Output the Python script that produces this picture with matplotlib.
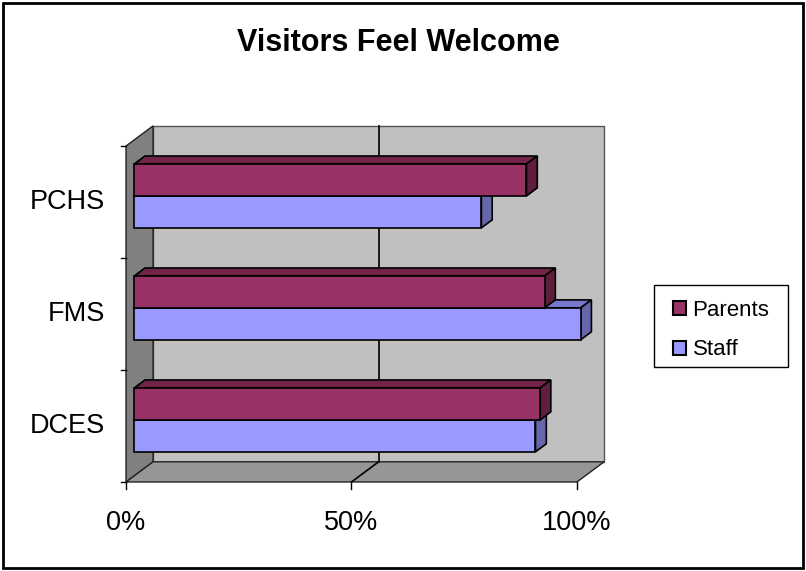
import matplotlib
matplotlib.use('Agg')
import matplotlib.pyplot as plt
from matplotlib.patches import Polygon, Rectangle, Patch

# data (percent)
categories = ['DCES', 'FMS', 'PCHS']
parents = [90, 91, 87]
staff = [89, 99, 77]
x_ticks = [0, 50, 100]
x_tick_labels = ['0%', '50%', '100%']
series_names = ['Parents', 'Staff']
title = 'Visitors Feel Welcome'

plt.rcParams['font.family'] = ['Liberation Sans', 'DejaVu Sans']

# colours (front face, top face, side face)
parents_cols = ('#993366', '#702448', '#5e1e3c')
staff_cols = ('#9999ff', '#7777cc', '#6666aa')

# fake 3D depth of the plot box, in data units
DX, DY = 6.0, 0.18
# bars sit in the middle of the depth
BX0, BY0 = 0.3 * DX, 0.3 * DY
BDX, BDY = 0.4 * DX, 0.4 * DY
H = 0.285

fig = plt.figure(figsize=(8.06, 5.71), dpi=100)
ax = fig.add_axes([0, 0, 1, 1])
ax.set_xlim(-27.94, 150.78)
ax.set_ylim(-1.295, 3.804)
ax.axis('off')

ymin, ymax = -0.5, len(categories) - 0.5

# walls and floor
ax.add_patch(Rectangle((DX, ymin + DY), 100, ymax - ymin, fc='#c0c0c0',
                       ec='#555555', lw=1, zorder=1))
ax.add_patch(Polygon([(0, ymin), (0, ymax), (DX, ymax + DY), (DX, ymin + DY)],
                     closed=True, fc='#808080', ec='#222222', lw=1, zorder=2))
ax.add_patch(Polygon([(0, ymin), (100, ymin), (100 + DX, ymin + DY),
                      (DX, ymin + DY)],
                     closed=True, fc='#969696', ec='#222222', lw=1, zorder=2))

# gridline at 50%
ax.plot([50 + DX, 50 + DX], [ymin + DY, ymax + DY], color='black', lw=1.2,
        zorder=3)
ax.plot([50, 50 + DX], [ymin, ymin + DY], color='black', lw=1.2, zorder=3)


def bar3d(y0, value, cols, z):
    ax.barh(y0, value, height=H, left=BX0, align='edge', color=cols[0],
            edgecolor='black', lw=1.2, zorder=z + 2)
    x1 = BX0 + value
    y1 = y0 + H
    ax.add_patch(Polygon([(BX0, y1), (x1, y1), (x1 + BDX, y1 + BDY),
                          (BX0 + BDX, y1 + BDY)], closed=True, fc=cols[1],
                         ec='black', lw=1.2, zorder=z))
    ax.add_patch(Polygon([(x1, y0), (x1, y1), (x1 + BDX, y1 + BDY),
                          (x1 + BDX, y0 + BDY)], closed=True, fc=cols[2],
                         ec='black', lw=1.2, zorder=z + 1))


z = 10
for i in reversed(range(len(categories))):
    bar3d(i + BY0 - H, staff[i], staff_cols, z)
    z += 3
    bar3d(i + BY0, parents[i], parents_cols, z)
    z += 3

# axis ticks
for b in range(len(categories) + 1):
    ax.plot([-1.1, 0], [b - 0.5, b - 0.5], color='black', lw=1, zorder=50)
for t in x_ticks:
    ax.plot([t, t], [ymin, ymin - 0.065], color='black', lw=1, zorder=50)

for i, c in enumerate(categories):
    ax.text(-4.66, i, c, ha='right', va='center', fontsize=19.5)
for t, lab in zip(x_ticks, x_tick_labels):
    ax.text(t, -0.866, lab, ha='center', va='center', fontsize=19.5)

fig.text(398 / 806, 1 - 43 / 571, title, fontsize=22, fontweight='bold',
         ha='center', va='center')

# legend entries, with its box drawn separately (wider side padding)
handles = [Patch(fc=parents_cols[0], ec='black', lw=1.5),
           Patch(fc=staff_cols[0], ec='black', lw=1.5)]
leg = fig.legend(handles, series_names, loc='center',
                 bbox_to_anchor=(721 / 806, 1 - 330 / 571), fontsize=16,
                 frameon=False, handlelength=0.6, handleheight=0.6,
                 handletextpad=0.3, labelspacing=0.85, borderpad=0.45,
                 borderaxespad=0)
fig.add_artist(Rectangle((654 / 806, 1 - 367 / 571), 134 / 806, 82 / 571,
                         transform=fig.transFigure, fill=False,
                         ec='black', lw=1))

# outer chart border
fig.add_artist(Rectangle((3 / 806, 3 / 571), 800 / 806, 565 / 571,
                         transform=fig.transFigure, fill=False,
                         ec='black', lw=2))

fig.savefig('out.png', dpi=100)
